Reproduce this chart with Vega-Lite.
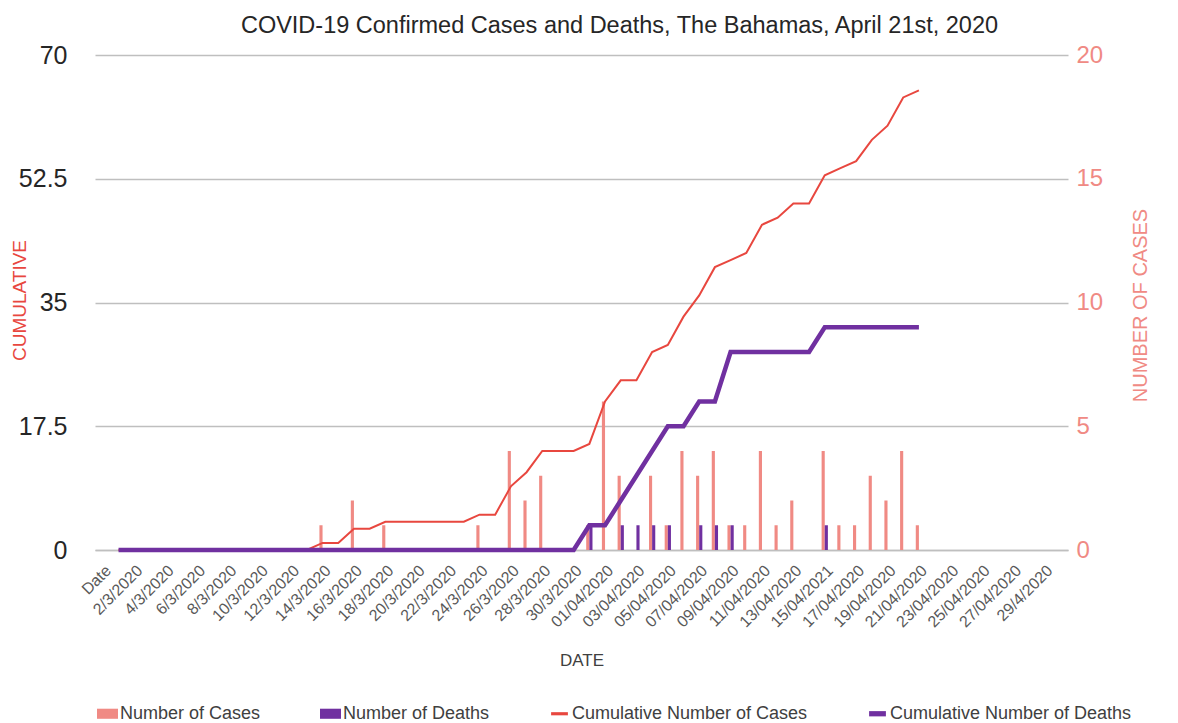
{
  "$schema": "https://vega.github.io/schema/vega-lite/v6.json",
  "width": 973,
  "height": 495,
  "autosize": {"type": "none"},
  "padding": {"left": 95, "top": 55, "right": 110, "bottom": 173},
  "background": "white",
  "config": {"font": "Liberation Sans", "view": {"stroke": null}},
  "title": {
    "text": "COVID-19 Confirmed Cases and Deaths, The Bahamas, April 21st, 2020",
    "fontSize": 23.5, "fontWeight": "normal", "color": "#262626",
    "offset": 6, "dx": 38, "anchor": "middle", "font": "Liberation Sans"
  },
  "datasets": {
    "daily": [
      {"date": "14/3/2020", "series": "Number of Cases", "value": 1},
      {"date": "16/3/2020", "series": "Number of Cases", "value": 2},
      {"date": "18/3/2020", "series": "Number of Cases", "value": 1},
      {"date": "24/3/2020", "series": "Number of Cases", "value": 1},
      {"date": "26/3/2020", "series": "Number of Cases", "value": 4},
      {"date": "27/3/2020", "series": "Number of Cases", "value": 2},
      {"date": "28/3/2020", "series": "Number of Cases", "value": 3},
      {"date": "31/3/2020", "series": "Number of Cases", "value": 1},
      {"date": "01/04/2020", "series": "Number of Cases", "value": 6},
      {"date": "02/04/2020", "series": "Number of Cases", "value": 3},
      {"date": "04/04/2020", "series": "Number of Cases", "value": 3},
      {"date": "05/04/2020", "series": "Number of Cases", "value": 1},
      {"date": "06/04/2020", "series": "Number of Cases", "value": 4},
      {"date": "07/04/2020", "series": "Number of Cases", "value": 3},
      {"date": "08/04/2020", "series": "Number of Cases", "value": 4},
      {"date": "09/04/2020", "series": "Number of Cases", "value": 1},
      {"date": "10/04/2020", "series": "Number of Cases", "value": 1},
      {"date": "11/04/2020", "series": "Number of Cases", "value": 4},
      {"date": "12/04/2020", "series": "Number of Cases", "value": 1},
      {"date": "13/04/2020", "series": "Number of Cases", "value": 2},
      {"date": "15/04/2021", "series": "Number of Cases", "value": 4},
      {"date": "16/04/2020", "series": "Number of Cases", "value": 1},
      {"date": "17/04/2020", "series": "Number of Cases", "value": 1},
      {"date": "18/04/2020", "series": "Number of Cases", "value": 3},
      {"date": "19/04/2020", "series": "Number of Cases", "value": 2},
      {"date": "20/04/2020", "series": "Number of Cases", "value": 4},
      {"date": "21/04/2020", "series": "Number of Cases", "value": 1},
      {"date": "31/3/2020", "series": "Number of Deaths", "value": 1},
      {"date": "02/04/2020", "series": "Number of Deaths", "value": 1},
      {"date": "03/04/2020", "series": "Number of Deaths", "value": 1},
      {"date": "04/04/2020", "series": "Number of Deaths", "value": 1},
      {"date": "05/04/2020", "series": "Number of Deaths", "value": 1},
      {"date": "07/04/2020", "series": "Number of Deaths", "value": 1},
      {"date": "08/04/2020", "series": "Number of Deaths", "value": 1},
      {"date": "09/04/2020", "series": "Number of Deaths", "value": 1},
      {"date": "15/04/2021", "series": "Number of Deaths", "value": 1}
    ],
    "cum": [
      {"date": "1/3/2020", "cumCases": 0, "cumDeaths": 0},
      {"date": "2/3/2020", "cumCases": 0, "cumDeaths": 0},
      {"date": "3/3/2020", "cumCases": 0, "cumDeaths": 0},
      {"date": "4/3/2020", "cumCases": 0, "cumDeaths": 0},
      {"date": "5/3/2020", "cumCases": 0, "cumDeaths": 0},
      {"date": "6/3/2020", "cumCases": 0, "cumDeaths": 0},
      {"date": "7/3/2020", "cumCases": 0, "cumDeaths": 0},
      {"date": "8/3/2020", "cumCases": 0, "cumDeaths": 0},
      {"date": "9/3/2020", "cumCases": 0, "cumDeaths": 0},
      {"date": "10/3/2020", "cumCases": 0, "cumDeaths": 0},
      {"date": "11/3/2020", "cumCases": 0, "cumDeaths": 0},
      {"date": "12/3/2020", "cumCases": 0, "cumDeaths": 0},
      {"date": "13/3/2020", "cumCases": 0, "cumDeaths": 0},
      {"date": "14/3/2020", "cumCases": 1, "cumDeaths": 0},
      {"date": "15/3/2020", "cumCases": 1, "cumDeaths": 0},
      {"date": "16/3/2020", "cumCases": 3, "cumDeaths": 0},
      {"date": "17/3/2020", "cumCases": 3, "cumDeaths": 0},
      {"date": "18/3/2020", "cumCases": 4, "cumDeaths": 0},
      {"date": "19/3/2020", "cumCases": 4, "cumDeaths": 0},
      {"date": "20/3/2020", "cumCases": 4, "cumDeaths": 0},
      {"date": "21/3/2020", "cumCases": 4, "cumDeaths": 0},
      {"date": "22/3/2020", "cumCases": 4, "cumDeaths": 0},
      {"date": "23/3/2020", "cumCases": 4, "cumDeaths": 0},
      {"date": "24/3/2020", "cumCases": 5, "cumDeaths": 0},
      {"date": "25/3/2020", "cumCases": 5, "cumDeaths": 0},
      {"date": "26/3/2020", "cumCases": 9, "cumDeaths": 0},
      {"date": "27/3/2020", "cumCases": 11, "cumDeaths": 0},
      {"date": "28/3/2020", "cumCases": 14, "cumDeaths": 0},
      {"date": "29/3/2020", "cumCases": 14, "cumDeaths": 0},
      {"date": "30/3/2020", "cumCases": 14, "cumDeaths": 0},
      {"date": "31/3/2020", "cumCases": 15, "cumDeaths": 1},
      {"date": "01/04/2020", "cumCases": 21, "cumDeaths": 1},
      {"date": "02/04/2020", "cumCases": 24, "cumDeaths": 2},
      {"date": "03/04/2020", "cumCases": 24, "cumDeaths": 3},
      {"date": "04/04/2020", "cumCases": 28, "cumDeaths": 4},
      {"date": "05/04/2020", "cumCases": 29, "cumDeaths": 5},
      {"date": "06/04/2020", "cumCases": 33, "cumDeaths": 5},
      {"date": "07/04/2020", "cumCases": 36, "cumDeaths": 6},
      {"date": "08/04/2020", "cumCases": 40, "cumDeaths": 6},
      {"date": "09/04/2020", "cumCases": 41, "cumDeaths": 8},
      {"date": "10/04/2020", "cumCases": 42, "cumDeaths": 8},
      {"date": "11/04/2020", "cumCases": 46, "cumDeaths": 8},
      {"date": "12/04/2020", "cumCases": 47, "cumDeaths": 8},
      {"date": "13/04/2020", "cumCases": 49, "cumDeaths": 8},
      {"date": "14/04/2020", "cumCases": 49, "cumDeaths": 8},
      {"date": "15/04/2021", "cumCases": 53, "cumDeaths": 9},
      {"date": "16/04/2020", "cumCases": 54, "cumDeaths": 9},
      {"date": "17/04/2020", "cumCases": 55, "cumDeaths": 9},
      {"date": "18/04/2020", "cumCases": 58, "cumDeaths": 9},
      {"date": "19/04/2020", "cumCases": 60, "cumDeaths": 9},
      {"date": "20/04/2020", "cumCases": 64, "cumDeaths": 9},
      {"date": "21/04/2020", "cumCases": 65, "cumDeaths": 9}
    ]
  },
  "layer": [
    {
      "data": {"name": "daily"},
      "mark": {"type": "bar"},
      "encoding": {
        "x": {
          "field": "date", "type": "nominal", "title": "DATE",
          "scale": {
            "domain": ["Date","1/3/2020","2/3/2020","3/3/2020","4/3/2020","5/3/2020","6/3/2020","7/3/2020","8/3/2020","9/3/2020","10/3/2020","11/3/2020","12/3/2020","13/3/2020","14/3/2020","15/3/2020","16/3/2020","17/3/2020","18/3/2020","19/3/2020","20/3/2020","21/3/2020","22/3/2020","23/3/2020","24/3/2020","25/3/2020","26/3/2020","27/3/2020","28/3/2020","29/3/2020","30/3/2020","31/3/2020","01/04/2020","02/04/2020","03/04/2020","04/04/2020","05/04/2020","06/04/2020","07/04/2020","08/04/2020","09/04/2020","10/04/2020","11/04/2020","12/04/2020","13/04/2020","14/04/2020","15/04/2021","16/04/2020","17/04/2020","18/04/2020","19/04/2020","20/04/2020","21/04/2020","22/04/2020","23/04/2020","24/04/2020","25/04/2020","26/04/2020","27/04/2020","28/04/2020","29/4/2020","30/4/2020"],
            "paddingInner": 0.6, "paddingOuter": 0.3
          },
          "axis": {
            "values": ["Date","2/3/2020","4/3/2020","6/3/2020","8/3/2020","10/3/2020","12/3/2020","14/3/2020","16/3/2020","18/3/2020","20/3/2020","22/3/2020","24/3/2020","26/3/2020","28/3/2020","30/3/2020","01/04/2020","03/04/2020","05/04/2020","07/04/2020","09/04/2020","11/04/2020","13/04/2020","15/04/2021","17/04/2020","19/04/2020","21/04/2020","23/04/2020","25/04/2020","27/04/2020","29/4/2020"],
            "labelAngle": -45, "labelAlign": "right", "labelBaseline": "top",
            "labelFontSize": 16, "labelColor": "#595959", "labelPadding": 12,
            "labelOverlap": false, "labelBound": false,
            "ticks": false, "domain": true, "domainColor": "#BFBFBF", "domainWidth": 1.5,
            "grid": false,
            "titleFontSize": 17, "titleFontWeight": "normal", "titleColor": "#404040",
            "titleY": 110, "titleBaseline": "middle"
          }
        },
        "xOffset": {"field": "series", "type": "nominal", "scale": {"domain": ["Number of Cases", "Number of Deaths"]}},
        "y": {
          "field": "value", "type": "quantitative",
          "scale": {"domain": [0, 20], "nice": false},
          "axis": {
            "orient": "right", "values": [0, 5, 10, 15, 20], "grid": false,
            "ticks": false, "domain": false,
            "labelFontSize": 24, "labelColor": "#F08A84", "labelPadding": 8,
            "title": "NUMBER OF CASES", "titleColor": "#F08A84", "titleFontSize": 20,
            "titleFontWeight": "normal", "titleAngle": 270, "titleX": 72, "titleY": 250,
            "titleBaseline": "middle", "titleAlign": "center"
          }
        },
        "color": {
          "field": "series", "type": "nominal",
          "scale": {
            "domain": ["Number of Cases", "Number of Deaths", "Cumulative Number of Cases", "Cumulative Number of Deaths"],
            "range": ["#F08A84", "#7030A0", "#E8473F", "#7030A0"]
          },
          "legend": {
            "orient": "none", "legendX": 2, "legendY": 648, "direction": "horizontal",
            "title": null, "labelFontSize": 18, "labelColor": "#404040", "labelLimit": 500,
            "columnPadding": 59, "symbolSize": 441, "labelOffset": 2,
            "encode": {
              "symbols": {
                "update": {
                  "shape": {"signal": "datum.value === 'Cumulative Number of Deaths' ? 'M-0.8,-0.25H0.8V0.25H-0.8Z' : (datum.value === 'Cumulative Number of Cases' ? 'M-0.8,-0.15H0.8V0.15H-0.8Z' : 'M-1,-0.48H1V0.48H-1Z')"},
                  "fill": {"scale": "color", "field": "value"},
                  "stroke": {"value": "transparent"},
                  "strokeWidth": {"value": 0},
                  "opacity": {"value": 1}
                }
              }
            }
          }
        }
      }
    },
    {
      "data": {"name": "cum"},
      "mark": {"type": "line", "strokeWidth": 2},
      "encoding": {
        "x": {"field": "date", "type": "nominal"},
        "y": {
          "field": "cumCases", "type": "quantitative",
          "scale": {"domain": [0, 70], "nice": false},
          "axis": {
            "orient": "left", "values": [0, 17.5, 35, 52.5, 70], "format": ".1~f",
            "ticks": false, "domain": false,
            "grid": true, "gridColor": "#BFBFBF", "gridWidth": 1.5,
            "labelFontSize": 25, "labelColor": "#262626", "labelPadding": 28,
            "title": "CUMULATIVE", "titleColor": "#E8473F", "titleFontSize": 19,
            "titleFontWeight": "normal", "titleAngle": 270, "titleX": -76, "titleY": 245,
            "titleBaseline": "middle", "titleAlign": "center"
          }
        },
        "color": {"datum": "Cumulative Number of Cases", "type": "nominal"}
      }
    },
    {
      "data": {"name": "cum"},
      "mark": {"type": "line", "strokeWidth": 4.5},
      "encoding": {
        "x": {"field": "date", "type": "nominal"},
        "y": {
          "field": "cumDeaths", "type": "quantitative",
          "scale": {"domain": [0, 20], "nice": false},
          "axis": null
        },
        "color": {"datum": "Cumulative Number of Deaths", "type": "nominal"}
      }
    }
  ],
  "resolve": {"scale": {"y": "independent"}}
}
